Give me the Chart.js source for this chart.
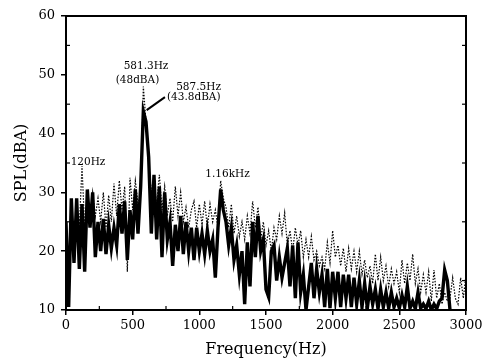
<!DOCTYPE html>
<html>
<head>
<meta charset="utf-8">
<script src="https://cdn.jsdelivr.net/npm/chart.js@4/dist/chart.umd.min.js"></script>
<style>
html,body{margin:0;padding:0;background:#fff;}
#wrap{width:487px;height:359px;position:relative;}
</style>
</head>
<body>
<div id="wrap"><canvas id="c" width="487" height="359"></canvas></div>
<script>
// Frequency grid step (Hz) for the sampled spectra
const FREQ_STEP = 20;
// Solid (thick) spectrum, dBA, at 0,20,40,...,3000 Hz
const solidSPL = [
25,10.5,29,18,29,17,28,16.5,30.5,24,
30,19,25,20,25.5,19.5,24.5,20.5,24,21,
28,23,28.5,18.5,27,22,30.5,23,31,43.8,
42,36,23,33,22,31,19,30,22,25,
17.5,24.5,20,26,19.5,25,20,24,18.5,24,
20,23,19.5,23.5,20,22,15.5,24,30.5,27,
25,21,24,18.5,21,16,20,11,21.5,14,
25,19,26,20,22,13.5,12.2,20,21,15,
19,15.5,18,20.5,14,21,12,21.5,13,16,
10,14,18,12,17,13,16,10.5,17,10.3,
16.5,12,16.5,10.5,16,12,16,10.5,15.5,11,
15,10.5,14.5,10.3,14,11,13.5,10.2,13.5,10.5,
13,10.3,13,10.5,12,10.3,12.5,10.5,14,10.3,
11.5,10.2,13,10.3,11,10.2,11.5,10,11,10.2,
11.5,12,16.8,15,10,null,null,null,null,null,
null
];
// Dotted (thin) spectrum, dBA, same grid
const dottedSPL = [
20,12,27,22,28,24,34.5,24,29,25,
30,26,29,25,30,24,29.5,25,31.5,26,
32,27,31,16.5,32.5,27,32,28,30,48,
42,35,30,32,28,33,27,31,26,29,
25,31,26,30,25,27.5,24,27,28.5,24,
28,24.5,28.5,24,28,25,27,24,32,29,
27.5,24,28,23,26,22.5,25,22,26,23,
28.5,24,27.5,22,25,21,23.5,20,24,22,
26,23,26.5,21,23.5,20,24,21,23.5,19,
22,19,22.5,18.5,20,17.5,19,17,21.5,18,
23.5,19,21,17.5,20.5,16.5,20.5,17,20,16.5,
20,16,18.5,15.5,17.5,14.5,19.5,15,19,15,
17.5,14,17,14.5,16.5,13,18.5,14.5,18,15,
19.5,14.5,17,13,16,13,16.5,11.5,16.8,12,
14.5,11,13,11.5,12,15.5,12,11,15.5,12,
16
];
// Axis tick values
const xTicks = [0,500,1000,1500,2000,2500,3000];
const yTicks = [10,20,30,40,50,60];
// Annotations: [text, freq(Hz), level(dBA)]
const labels = [
  ["581.3Hz", 600, 51.4],
  ["(48dBA)", 536, 49.1],
  ["587.5Hz", 994, 47.8],
  ["(43.8dBA)", 958, 46.2],
  ["120Hz", 165, 35.2],
  ["1.16kHz", 1211, 33.0]
];
// Leader line [f1, dB1, f2, dB2]
const leader = [605, 44.0, 742, 46.2];

const toXY = arr => arr.map((v,i)=>({x:i*FREQ_STEP, y:v}));

const decor = {
  id:'decor',
  afterDatasetsDraw(chart){
    const {ctx, chartArea:a, scales:{x,y}} = chart;
    ctx.save();
    ctx.strokeStyle='#000';
    ctx.lineWidth=2;
    ctx.strokeRect(a.left, a.top, a.right-a.left, a.bottom-a.top);
    // minor inward ticks
    ctx.lineWidth=1.2;
    for (let f=250; f<3000; f+=500){
      const px=x.getPixelForValue(f);
      ctx.beginPath(); ctx.moveTo(px,a.bottom); ctx.lineTo(px,a.bottom-4); ctx.stroke();
    }
    for (let v=15; v<60; v+=10){
      const py=y.getPixelForValue(v);
      ctx.beginPath(); ctx.moveTo(a.left,py); ctx.lineTo(a.left+4,py); ctx.stroke();
      ctx.beginPath(); ctx.moveTo(a.right,py); ctx.lineTo(a.right-4,py); ctx.stroke();
    }
    // leader line
    ctx.lineWidth=2;
    ctx.beginPath();
    ctx.moveTo(x.getPixelForValue(leader[0]), y.getPixelForValue(leader[1]));
    ctx.lineTo(x.getPixelForValue(leader[2]), y.getPixelForValue(leader[3]));
    ctx.stroke();
    // text labels
    ctx.fillStyle='#000';
    ctx.font='10.5px "DejaVu Serif"';
    ctx.textAlign='center';
    ctx.textBaseline='middle';
    labels.forEach(([t,f,v])=>{
      ctx.fillText(t, x.getPixelForValue(f), y.getPixelForValue(v));
    });
    ctx.restore();
  }
};

new Chart(document.getElementById('c'), {
  type:'line',
  data:{
    datasets:[
      {data:toXY(dottedSPL), borderColor:'#000', borderWidth:1.2, borderDash:[1.5,1.5], pointRadius:0, tension:0, spanGaps:false},
      {data:toXY(solidSPL), borderColor:'#000', borderWidth:3.4, pointRadius:0, tension:0, spanGaps:false}
    ]
  },
  options:{
    responsive:false,
    animation:false,
    events:[],
    layout:{padding:{top:16,right:21,left:0,bottom:0}},
    plugins:{legend:{display:false}, tooltip:{enabled:false}},
    scales:{
      x:{
        type:'linear', min:0, max:3000,
        afterBuildTicks: s => { s.ticks = xTicks.map(v=>({value:v})); },
        afterFit: s => { s.height = 49; },
        grid:{drawOnChartArea:false, color:'#000', lineWidth:1.5, tickLength:5},
        border:{display:false},
        ticks:{color:'#000', font:{family:'DejaVu Serif', size:13}, padding:3, maxRotation:0, callback:v=>String(v)},
        title:{display:true, text:'Frequency(Hz)', color:'#000', font:{family:'DejaVu Serif', size:16}, padding:{top:0,bottom:0}}
      },
      y:{
        type:'linear', min:10, max:60,
        afterBuildTicks: s => { s.ticks = yTicks.map(v=>({value:v})); },
        afterFit: s => { s.width = 66; },
        grid:{drawOnChartArea:false, color:'#000', lineWidth:1.5, tickLength:5},
        border:{display:false},
        ticks:{color:'#000', font:{family:'DejaVu Serif', size:13}, padding:6, callback:v=>String(v)},
        title:{display:true, text:'SPL(dBA)', color:'#000', font:{family:'DejaVu Serif', size:16}, padding:{top:12,bottom:0}}
      }
    }
  },
  plugins:[decor]
});
</script>
</body>
</html>
